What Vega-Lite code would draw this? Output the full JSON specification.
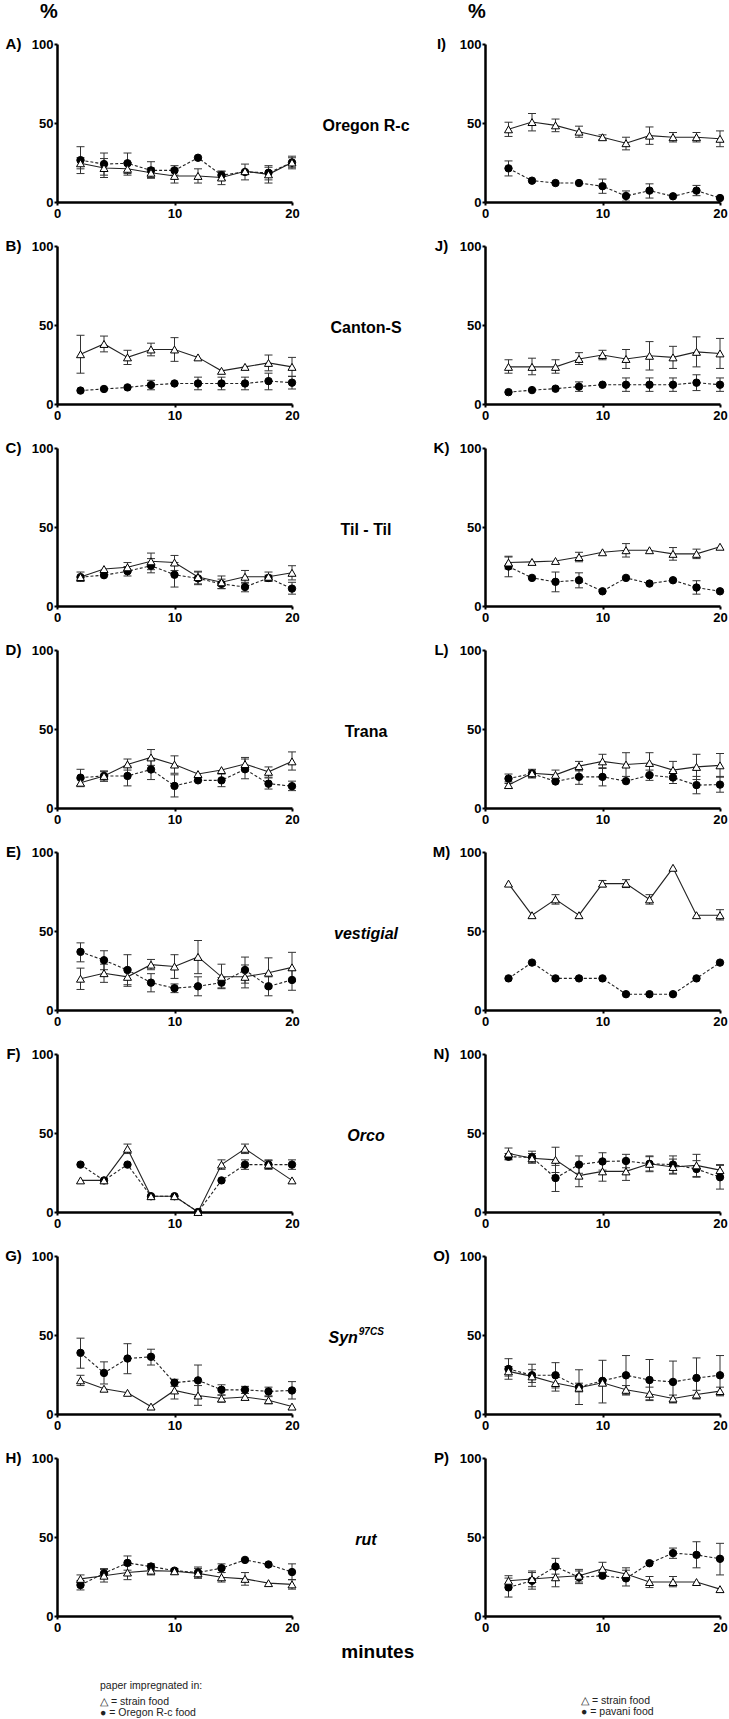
{
"$schema": "https://vega.github.io/schema/vega-lite/v6.json",
"padding": {"left": 5, "top": 1, "right": 0, "bottom": 0},
"background": "white",
"data": {"values": [
{"r":1,"c":"L","k":"d","s":"t","x":2,"y":24.5,"lo":21,"hi":28},
{"r":1,"c":"L","k":"d","s":"t","x":4,"y":21.5,"lo":15.5,"hi":27.5},
{"r":1,"c":"L","k":"d","s":"t","x":6,"y":21,"lo":17,"hi":25},
{"r":1,"c":"L","k":"d","s":"t","x":8,"y":18.5,"lo":15.5,"hi":21.5},
{"r":1,"c":"L","k":"d","s":"t","x":10,"y":16.5,"lo":12,"hi":21},
{"r":1,"c":"L","k":"d","s":"t","x":12,"y":16.5,"lo":12,"hi":21},
{"r":1,"c":"L","k":"d","s":"t","x":14,"y":15.5,"lo":11,"hi":19.5},
{"r":1,"c":"L","k":"d","s":"t","x":16,"y":19.5,"lo":14,"hi":24},
{"r":1,"c":"L","k":"d","s":"t","x":18,"y":17.5,"lo":12,"hi":22},
{"r":1,"c":"L","k":"d","s":"t","x":20,"y":25,"lo":21,"hi":29},
{"r":1,"c":"L","k":"d","s":"c","x":2,"y":26.5,"lo":18,"hi":35},
{"r":1,"c":"L","k":"d","s":"c","x":4,"y":24,"lo":17,"hi":31},
{"r":1,"c":"L","k":"d","s":"c","x":6,"y":24.5,"lo":18,"hi":31},
{"r":1,"c":"L","k":"d","s":"c","x":8,"y":20,"lo":15,"hi":25.5},
{"r":1,"c":"L","k":"d","s":"c","x":10,"y":20,"lo":17,"hi":23},
{"r":1,"c":"L","k":"d","s":"c","x":12,"y":28},
{"r":1,"c":"L","k":"d","s":"c","x":14,"y":17,"lo":14,"hi":19.5},
{"r":1,"c":"L","k":"d","s":"c","x":16,"y":19},
{"r":1,"c":"L","k":"d","s":"c","x":18,"y":18.5,"lo":14,"hi":23},
{"r":1,"c":"L","k":"d","s":"c","x":20,"y":25,"lo":22,"hi":28},

{"r":1,"c":"R","k":"d","s":"t","x":2,"y":46,"lo":41.5,"hi":50.5},
{"r":1,"c":"R","k":"d","s":"t","x":4,"y":50.6,"lo":45,"hi":56},
{"r":1,"c":"R","k":"d","s":"t","x":6,"y":48.5,"lo":44.5,"hi":52.5},
{"r":1,"c":"R","k":"d","s":"t","x":8,"y":44.5,"lo":41,"hi":48},
{"r":1,"c":"R","k":"d","s":"t","x":10,"y":41,"lo":39.5,"hi":42.5},
{"r":1,"c":"R","k":"d","s":"t","x":12,"y":37.2,"lo":33,"hi":41},
{"r":1,"c":"R","k":"d","s":"t","x":14,"y":42,"lo":36.5,"hi":47.5},
{"r":1,"c":"R","k":"d","s":"t","x":16,"y":41,"lo":38,"hi":44},
{"r":1,"c":"R","k":"d","s":"t","x":18,"y":41,"lo":38,"hi":44},
{"r":1,"c":"R","k":"d","s":"t","x":20,"y":40,"lo":35,"hi":45},
{"r":1,"c":"R","k":"d","s":"c","x":2,"y":21.3,"lo":16.5,"hi":26},
{"r":1,"c":"R","k":"d","s":"c","x":4,"y":13.5},
{"r":1,"c":"R","k":"d","s":"c","x":6,"y":12},
{"r":1,"c":"R","k":"d","s":"c","x":8,"y":12},
{"r":1,"c":"R","k":"d","s":"c","x":10,"y":10,"lo":5.5,"hi":14.5},
{"r":1,"c":"R","k":"d","s":"c","x":12,"y":3.8,"lo":0.5,"hi":7},
{"r":1,"c":"R","k":"d","s":"c","x":14,"y":7.2,"lo":2.5,"hi":11.5},
{"r":1,"c":"R","k":"d","s":"c","x":16,"y":3.6},
{"r":1,"c":"R","k":"d","s":"c","x":18,"y":7.2,"lo":4,"hi":10.5},
{"r":1,"c":"R","k":"d","s":"c","x":20,"y":2.5},

{"r":2,"c":"L","k":"d","s":"t","x":2,"y":31.5,"lo":19.5,"hi":43.5},
{"r":2,"c":"L","k":"d","s":"t","x":4,"y":38,"lo":33,"hi":43},
{"r":2,"c":"L","k":"d","s":"t","x":6,"y":29.5,"lo":25,"hi":34},
{"r":2,"c":"L","k":"d","s":"t","x":8,"y":34.5,"lo":30.5,"hi":38.5},
{"r":2,"c":"L","k":"d","s":"t","x":10,"y":34.5,"lo":27,"hi":42},
{"r":2,"c":"L","k":"d","s":"t","x":12,"y":29.5},
{"r":2,"c":"L","k":"d","s":"t","x":14,"y":21},
{"r":2,"c":"L","k":"d","s":"t","x":16,"y":23.5},
{"r":2,"c":"L","k":"d","s":"t","x":18,"y":26,"lo":21,"hi":31},
{"r":2,"c":"L","k":"d","s":"t","x":20,"y":23.5,"lo":17.5,"hi":29.5},
{"r":2,"c":"L","k":"d","s":"c","x":2,"y":8.5},
{"r":2,"c":"L","k":"d","s":"c","x":4,"y":9.5},
{"r":2,"c":"L","k":"d","s":"c","x":6,"y":10.5},
{"r":2,"c":"L","k":"d","s":"c","x":8,"y":12,"lo":9,"hi":15},
{"r":2,"c":"L","k":"d","s":"c","x":10,"y":13},
{"r":2,"c":"L","k":"d","s":"c","x":12,"y":13,"lo":9,"hi":17},
{"r":2,"c":"L","k":"d","s":"c","x":14,"y":13,"lo":9,"hi":17},
{"r":2,"c":"L","k":"d","s":"c","x":16,"y":13,"lo":9,"hi":17},
{"r":2,"c":"L","k":"d","s":"c","x":18,"y":14.5,"lo":9,"hi":19.5},
{"r":2,"c":"L","k":"d","s":"c","x":20,"y":13.5,"lo":9.5,"hi":17.5},

{"r":2,"c":"R","k":"d","s":"t","x":2,"y":23.5,"lo":19.5,"hi":28},
{"r":2,"c":"R","k":"d","s":"t","x":4,"y":23.5,"lo":18.5,"hi":29},
{"r":2,"c":"R","k":"d","s":"t","x":6,"y":23.5,"lo":19.5,"hi":28},
{"r":2,"c":"R","k":"d","s":"t","x":8,"y":28.5,"lo":25,"hi":32.5},
{"r":2,"c":"R","k":"d","s":"t","x":10,"y":31,"lo":28,"hi":34},
{"r":2,"c":"R","k":"d","s":"t","x":12,"y":28.5,"lo":22.5,"hi":34.5},
{"r":2,"c":"R","k":"d","s":"t","x":14,"y":30.5,"lo":21.5,"hi":39.5},
{"r":2,"c":"R","k":"d","s":"t","x":16,"y":29.5,"lo":22.5,"hi":36.5},
{"r":2,"c":"R","k":"d","s":"t","x":18,"y":33,"lo":23.5,"hi":42.5},
{"r":2,"c":"R","k":"d","s":"t","x":20,"y":32,"lo":22.5,"hi":41.5},
{"r":2,"c":"R","k":"d","s":"c","x":2,"y":7.5},
{"r":2,"c":"R","k":"d","s":"c","x":4,"y":8.8},
{"r":2,"c":"R","k":"d","s":"c","x":6,"y":9.7},
{"r":2,"c":"R","k":"d","s":"c","x":8,"y":11,"lo":8,"hi":14},
{"r":2,"c":"R","k":"d","s":"c","x":10,"y":12.2},
{"r":2,"c":"R","k":"d","s":"c","x":12,"y":12.2,"lo":8,"hi":16.5},
{"r":2,"c":"R","k":"d","s":"c","x":14,"y":12.2,"lo":8,"hi":16.5},
{"r":2,"c":"R","k":"d","s":"c","x":16,"y":12.2,"lo":8,"hi":16.5},
{"r":2,"c":"R","k":"d","s":"c","x":18,"y":13.5,"lo":8.5,"hi":18.5},
{"r":2,"c":"R","k":"d","s":"c","x":20,"y":12.2,"lo":8,"hi":16.5},

{"r":3,"c":"L","k":"d","s":"t","x":2,"y":18.3,"lo":15.5,"hi":21.5},
{"r":3,"c":"L","k":"d","s":"t","x":4,"y":23.4},
{"r":3,"c":"L","k":"d","s":"t","x":6,"y":24.5,"lo":21.5,"hi":27.5},
{"r":3,"c":"L","k":"d","s":"t","x":8,"y":28.3,"lo":23,"hi":33.5},
{"r":3,"c":"L","k":"d","s":"t","x":10,"y":27.5,"lo":22.5,"hi":32},
{"r":3,"c":"L","k":"d","s":"t","x":12,"y":18.3,"lo":14,"hi":22},
{"r":3,"c":"L","k":"d","s":"t","x":14,"y":15,"lo":11,"hi":19},
{"r":3,"c":"L","k":"d","s":"t","x":16,"y":18.5,"lo":14.5,"hi":22.5},
{"r":3,"c":"L","k":"d","s":"t","x":18,"y":18.5,"lo":15.5,"hi":21.5},
{"r":3,"c":"L","k":"d","s":"t","x":20,"y":21,"lo":16.5,"hi":25.5},
{"r":3,"c":"L","k":"d","s":"c","x":2,"y":18.3},
{"r":3,"c":"L","k":"d","s":"c","x":4,"y":19.5},
{"r":3,"c":"L","k":"d","s":"c","x":6,"y":22,"lo":19,"hi":25},
{"r":3,"c":"L","k":"d","s":"c","x":8,"y":25.5,"lo":21,"hi":30},
{"r":3,"c":"L","k":"d","s":"c","x":10,"y":19.8,"lo":12,"hi":27.5},
{"r":3,"c":"L","k":"d","s":"c","x":12,"y":17.5,"lo":13.5,"hi":21.5},
{"r":3,"c":"L","k":"d","s":"c","x":14,"y":14,"lo":11,"hi":17},
{"r":3,"c":"L","k":"d","s":"c","x":16,"y":12,"lo":9,"hi":15},
{"r":3,"c":"L","k":"d","s":"c","x":18,"y":17.8,"lo":16,"hi":19.5},
{"r":3,"c":"L","k":"d","s":"c","x":20,"y":11,"lo":7.5,"hi":15},

{"r":3,"c":"R","k":"d","s":"t","x":2,"y":27.5,"lo":23.5,"hi":31.5},
{"r":3,"c":"R","k":"d","s":"t","x":4,"y":27.9},
{"r":3,"c":"R","k":"d","s":"t","x":6,"y":28.5},
{"r":3,"c":"R","k":"d","s":"t","x":8,"y":31,"lo":28,"hi":34},
{"r":3,"c":"R","k":"d","s":"t","x":10,"y":34},
{"r":3,"c":"R","k":"d","s":"t","x":12,"y":35.3,"lo":31,"hi":39.5},
{"r":3,"c":"R","k":"d","s":"t","x":14,"y":35.3},
{"r":3,"c":"R","k":"d","s":"t","x":16,"y":33,"lo":29,"hi":37},
{"r":3,"c":"R","k":"d","s":"t","x":18,"y":33,"lo":30,"hi":36},
{"r":3,"c":"R","k":"d","s":"t","x":20,"y":37.5},
{"r":3,"c":"R","k":"d","s":"c","x":2,"y":25,"lo":18.5,"hi":31},
{"r":3,"c":"R","k":"d","s":"c","x":4,"y":17.8},
{"r":3,"c":"R","k":"d","s":"c","x":6,"y":15.3,"lo":9,"hi":21.5},
{"r":3,"c":"R","k":"d","s":"c","x":8,"y":16.3,"lo":11.5,"hi":21},
{"r":3,"c":"R","k":"d","s":"c","x":10,"y":9.3},
{"r":3,"c":"R","k":"d","s":"c","x":12,"y":17.8},
{"r":3,"c":"R","k":"d","s":"c","x":14,"y":14.2},
{"r":3,"c":"R","k":"d","s":"c","x":16,"y":16.3},
{"r":3,"c":"R","k":"d","s":"c","x":18,"y":11.7,"lo":7.5,"hi":16},
{"r":3,"c":"R","k":"d","s":"c","x":20,"y":9.3},

{"r":4,"c":"L","k":"d","s":"t","x":2,"y":16,"lo":13.5,"hi":18.5},
{"r":4,"c":"L","k":"d","s":"t","x":4,"y":20.3,"lo":17,"hi":23.5},
{"r":4,"c":"L","k":"d","s":"t","x":6,"y":27.6,"lo":24,"hi":31},
{"r":4,"c":"L","k":"d","s":"t","x":8,"y":32,"lo":27,"hi":37},
{"r":4,"c":"L","k":"d","s":"t","x":10,"y":27.5,"lo":22,"hi":33},
{"r":4,"c":"L","k":"d","s":"t","x":12,"y":21.5},
{"r":4,"c":"L","k":"d","s":"t","x":14,"y":24},
{"r":4,"c":"L","k":"d","s":"t","x":16,"y":27.8,"lo":24,"hi":32},
{"r":4,"c":"L","k":"d","s":"t","x":18,"y":22.9,"lo":19.5,"hi":26},
{"r":4,"c":"L","k":"d","s":"t","x":20,"y":29.5,"lo":24,"hi":35.5},
{"r":4,"c":"L","k":"d","s":"c","x":2,"y":19.2,"lo":14,"hi":24.5},
{"r":4,"c":"L","k":"d","s":"c","x":4,"y":20.3,"lo":17,"hi":23},
{"r":4,"c":"L","k":"d","s":"c","x":6,"y":20.3,"lo":14,"hi":26.5},
{"r":4,"c":"L","k":"d","s":"c","x":8,"y":24.4,"lo":18,"hi":30.5},
{"r":4,"c":"L","k":"d","s":"c","x":10,"y":14,"lo":7,"hi":21},
{"r":4,"c":"L","k":"d","s":"c","x":12,"y":17.5},
{"r":4,"c":"L","k":"d","s":"c","x":14,"y":17.5,"lo":13.5,"hi":21.5},
{"r":4,"c":"L","k":"d","s":"c","x":16,"y":24.5,"lo":18.5,"hi":31},
{"r":4,"c":"L","k":"d","s":"c","x":18,"y":15.4,"lo":12,"hi":19},
{"r":4,"c":"L","k":"d","s":"c","x":20,"y":13.8,"lo":11,"hi":17},

{"r":4,"c":"R","k":"d","s":"t","x":2,"y":14.5,"lo":12.5,"hi":16.5},
{"r":4,"c":"R","k":"d","s":"t","x":4,"y":22,"lo":19.5,"hi":24.5},
{"r":4,"c":"R","k":"d","s":"t","x":6,"y":21,"lo":17.5,"hi":24},
{"r":4,"c":"R","k":"d","s":"t","x":8,"y":26.5,"lo":23.5,"hi":29.5},
{"r":4,"c":"R","k":"d","s":"t","x":10,"y":29.5,"lo":25,"hi":34},
{"r":4,"c":"R","k":"d","s":"t","x":12,"y":27.5,"lo":20,"hi":35},
{"r":4,"c":"R","k":"d","s":"t","x":14,"y":28.5,"lo":21.5,"hi":35},
{"r":4,"c":"R","k":"d","s":"t","x":16,"y":24,"lo":18.5,"hi":29.5},
{"r":4,"c":"R","k":"d","s":"t","x":18,"y":26,"lo":18,"hi":34},
{"r":4,"c":"R","k":"d","s":"t","x":20,"y":27,"lo":19.5,"hi":34.5},
{"r":4,"c":"R","k":"d","s":"c","x":2,"y":18.6,"lo":15.5,"hi":21.5},
{"r":4,"c":"R","k":"d","s":"c","x":4,"y":21.8,"lo":19,"hi":24},
{"r":4,"c":"R","k":"d","s":"c","x":6,"y":16.8},
{"r":4,"c":"R","k":"d","s":"c","x":8,"y":19.7,"lo":15,"hi":24},
{"r":4,"c":"R","k":"d","s":"c","x":10,"y":19.7,"lo":14,"hi":25.5},
{"r":4,"c":"R","k":"d","s":"c","x":12,"y":17},
{"r":4,"c":"R","k":"d","s":"c","x":14,"y":20.8,"lo":17.5,"hi":24},
{"r":4,"c":"R","k":"d","s":"c","x":16,"y":19.3,"lo":15.5,"hi":23},
{"r":4,"c":"R","k":"d","s":"c","x":18,"y":14.5,"lo":9,"hi":20},
{"r":4,"c":"R","k":"d","s":"c","x":20,"y":14.8,"lo":10,"hi":20},

{"r":5,"c":"L","k":"d","s":"t","x":2,"y":19.8,"lo":13,"hi":26.5},
{"r":5,"c":"L","k":"d","s":"t","x":4,"y":23.3,"lo":17.5,"hi":29},
{"r":5,"c":"L","k":"d","s":"t","x":6,"y":21,"lo":16,"hi":26},
{"r":5,"c":"L","k":"d","s":"t","x":8,"y":28.7,"lo":25.5,"hi":32},
{"r":5,"c":"L","k":"d","s":"t","x":10,"y":27.5,"lo":20,"hi":35},
{"r":5,"c":"L","k":"d","s":"t","x":12,"y":33.6,"lo":23,"hi":44},
{"r":5,"c":"L","k":"d","s":"t","x":14,"y":21,"lo":13.5,"hi":29},
{"r":5,"c":"L","k":"d","s":"t","x":16,"y":21,"lo":14,"hi":28.5},
{"r":5,"c":"L","k":"d","s":"t","x":18,"y":23.6,"lo":14,"hi":33},
{"r":5,"c":"L","k":"d","s":"t","x":20,"y":27,"lo":18,"hi":36.5},
{"r":5,"c":"L","k":"d","s":"c","x":2,"y":36.8,"lo":30.5,"hi":42.5},
{"r":5,"c":"L","k":"d","s":"c","x":4,"y":31.5,"lo":25.5,"hi":37.5},
{"r":5,"c":"L","k":"d","s":"c","x":6,"y":25.3,"lo":15,"hi":35},
{"r":5,"c":"L","k":"d","s":"c","x":8,"y":17.3,"lo":11.5,"hi":23},
{"r":5,"c":"L","k":"d","s":"c","x":10,"y":13.8,"lo":11,"hi":16.5},
{"r":5,"c":"L","k":"d","s":"c","x":12,"y":15,"lo":9,"hi":21},
{"r":5,"c":"L","k":"d","s":"c","x":14,"y":17.3,"lo":14,"hi":20.5},
{"r":5,"c":"L","k":"d","s":"c","x":16,"y":25.3,"lo":17,"hi":33.5},
{"r":5,"c":"L","k":"d","s":"c","x":18,"y":15,"lo":9,"hi":21},
{"r":5,"c":"L","k":"d","s":"c","x":20,"y":19,"lo":12.5,"hi":25},

{"r":5,"c":"R","k":"d","s":"t","x":2,"y":80},
{"r":5,"c":"R","k":"d","s":"t","x":4,"y":60},
{"r":5,"c":"R","k":"d","s":"t","x":6,"y":70,"lo":67,"hi":73},
{"r":5,"c":"R","k":"d","s":"t","x":8,"y":60},
{"r":5,"c":"R","k":"d","s":"t","x":10,"y":80,"lo":78,"hi":82},
{"r":5,"c":"R","k":"d","s":"t","x":12,"y":80,"lo":77.5,"hi":82.5},
{"r":5,"c":"R","k":"d","s":"t","x":14,"y":70,"lo":67,"hi":73},
{"r":5,"c":"R","k":"d","s":"t","x":16,"y":90},
{"r":5,"c":"R","k":"d","s":"t","x":18,"y":60},
{"r":5,"c":"R","k":"d","s":"t","x":20,"y":60,"lo":57,"hi":63.5},
{"r":5,"c":"R","k":"d","s":"c","x":2,"y":20},
{"r":5,"c":"R","k":"d","s":"c","x":4,"y":30},
{"r":5,"c":"R","k":"d","s":"c","x":6,"y":20},
{"r":5,"c":"R","k":"d","s":"c","x":8,"y":20},
{"r":5,"c":"R","k":"d","s":"c","x":10,"y":20},
{"r":5,"c":"R","k":"d","s":"c","x":12,"y":10},
{"r":5,"c":"R","k":"d","s":"c","x":14,"y":10},
{"r":5,"c":"R","k":"d","s":"c","x":16,"y":10},
{"r":5,"c":"R","k":"d","s":"c","x":18,"y":20},
{"r":5,"c":"R","k":"d","s":"c","x":20,"y":30},

{"r":6,"c":"L","k":"d","s":"t","x":2,"y":20},
{"r":6,"c":"L","k":"d","s":"t","x":4,"y":20},
{"r":6,"c":"L","k":"d","s":"t","x":6,"y":40,"lo":37,"hi":43},
{"r":6,"c":"L","k":"d","s":"t","x":8,"y":10},
{"r":6,"c":"L","k":"d","s":"t","x":10,"y":10},
{"r":6,"c":"L","k":"d","s":"t","x":12,"y":0},
{"r":6,"c":"L","k":"d","s":"t","x":14,"y":30,"lo":27,"hi":33},
{"r":6,"c":"L","k":"d","s":"t","x":16,"y":40,"lo":37,"hi":43},
{"r":6,"c":"L","k":"d","s":"t","x":18,"y":30,"lo":27.5,"hi":32.5},
{"r":6,"c":"L","k":"d","s":"t","x":20,"y":20},
{"r":6,"c":"L","k":"d","s":"c","x":2,"y":30},
{"r":6,"c":"L","k":"d","s":"c","x":4,"y":20},
{"r":6,"c":"L","k":"d","s":"c","x":6,"y":30},
{"r":6,"c":"L","k":"d","s":"c","x":8,"y":10},
{"r":6,"c":"L","k":"d","s":"c","x":10,"y":10},
{"r":6,"c":"L","k":"d","s":"c","x":12,"y":0},
{"r":6,"c":"L","k":"d","s":"c","x":14,"y":20},
{"r":6,"c":"L","k":"d","s":"c","x":16,"y":30,"lo":27,"hi":33},
{"r":6,"c":"L","k":"d","s":"c","x":18,"y":30,"lo":27,"hi":33},
{"r":6,"c":"L","k":"d","s":"c","x":20,"y":30,"lo":27,"hi":33},

{"r":6,"c":"R","k":"d","s":"t","x":2,"y":37,"lo":33.5,"hi":40.5},
{"r":6,"c":"R","k":"d","s":"t","x":4,"y":34,"lo":31,"hi":37},
{"r":6,"c":"R","k":"d","s":"t","x":6,"y":33,"lo":25,"hi":41},
{"r":6,"c":"R","k":"d","s":"t","x":8,"y":23,"lo":16,"hi":30},
{"r":6,"c":"R","k":"d","s":"t","x":10,"y":25.7,"lo":19.5,"hi":32},
{"r":6,"c":"R","k":"d","s":"t","x":12,"y":25.7,"lo":20,"hi":31.5},
{"r":6,"c":"R","k":"d","s":"t","x":14,"y":30.5,"lo":25.5,"hi":35.5},
{"r":6,"c":"R","k":"d","s":"t","x":16,"y":28.5,"lo":24,"hi":33.5},
{"r":6,"c":"R","k":"d","s":"t","x":18,"y":29.5,"lo":22.5,"hi":36.5},
{"r":6,"c":"R","k":"d","s":"t","x":20,"y":26.5,"lo":22.5,"hi":30},
{"r":6,"c":"R","k":"d","s":"c","x":2,"y":35,"lo":33,"hi":37},
{"r":6,"c":"R","k":"d","s":"c","x":4,"y":34.6,"lo":31,"hi":38.5},
{"r":6,"c":"R","k":"d","s":"c","x":6,"y":21.5,"lo":13,"hi":29.5},
{"r":6,"c":"R","k":"d","s":"c","x":8,"y":30,"lo":24.5,"hi":35.5},
{"r":6,"c":"R","k":"d","s":"c","x":10,"y":32,"lo":26.5,"hi":37.5},
{"r":6,"c":"R","k":"d","s":"c","x":12,"y":32.3,"lo":28,"hi":36.5},
{"r":6,"c":"R","k":"d","s":"c","x":14,"y":30.5,"lo":26,"hi":35},
{"r":6,"c":"R","k":"d","s":"c","x":16,"y":30,"lo":24.5,"hi":35.5},
{"r":6,"c":"R","k":"d","s":"c","x":18,"y":27.2,"lo":22,"hi":32.5},
{"r":6,"c":"R","k":"d","s":"c","x":20,"y":22,"lo":14.5,"hi":29.5},

{"r":7,"c":"L","k":"d","s":"t","x":2,"y":21.3,"lo":18,"hi":24.5},
{"r":7,"c":"L","k":"d","s":"t","x":4,"y":16},
{"r":7,"c":"L","k":"d","s":"t","x":6,"y":13.4},
{"r":7,"c":"L","k":"d","s":"t","x":8,"y":4.7},
{"r":7,"c":"L","k":"d","s":"t","x":10,"y":14.9,"lo":9.5,"hi":20},
{"r":7,"c":"L","k":"d","s":"t","x":12,"y":11.7,"lo":5.5,"hi":18},
{"r":7,"c":"L","k":"d","s":"t","x":14,"y":9.8,"lo":7.5,"hi":12},
{"r":7,"c":"L","k":"d","s":"t","x":16,"y":10.8},
{"r":7,"c":"L","k":"d","s":"t","x":18,"y":8.7,"lo":6.5,"hi":11},
{"r":7,"c":"L","k":"d","s":"t","x":20,"y":4.7},
{"r":7,"c":"L","k":"d","s":"c","x":2,"y":38.7,"lo":29,"hi":48},
{"r":7,"c":"L","k":"d","s":"c","x":4,"y":26,"lo":19,"hi":33},
{"r":7,"c":"L","k":"d","s":"c","x":6,"y":35.1,"lo":25.5,"hi":44.5},
{"r":7,"c":"L","k":"d","s":"c","x":8,"y":36.2,"lo":31,"hi":41},
{"r":7,"c":"L","k":"d","s":"c","x":10,"y":19.8,"lo":17.5,"hi":22},
{"r":7,"c":"L","k":"d","s":"c","x":12,"y":21.3,"lo":11,"hi":31},
{"r":7,"c":"L","k":"d","s":"c","x":14,"y":15.3,"lo":12,"hi":18.5},
{"r":7,"c":"L","k":"d","s":"c","x":16,"y":15.3,"lo":13,"hi":17.5},
{"r":7,"c":"L","k":"d","s":"c","x":18,"y":14.3,"lo":11.5,"hi":17},
{"r":7,"c":"L","k":"d","s":"c","x":20,"y":14.9,"lo":9.5,"hi":20.5},

{"r":7,"c":"R","k":"d","s":"t","x":2,"y":27,"lo":24,"hi":30},
{"r":7,"c":"R","k":"d","s":"t","x":4,"y":23.8,"lo":20,"hi":28},
{"r":7,"c":"R","k":"d","s":"t","x":6,"y":19.6,"lo":14.5,"hi":25},
{"r":7,"c":"R","k":"d","s":"t","x":8,"y":16.6,"lo":14,"hi":19.5},
{"r":7,"c":"R","k":"d","s":"t","x":10,"y":19.8,"lo":18,"hi":21.5},
{"r":7,"c":"R","k":"d","s":"t","x":12,"y":15.3,"lo":12.5,"hi":18},
{"r":7,"c":"R","k":"d","s":"t","x":14,"y":12.8,"lo":9,"hi":17},
{"r":7,"c":"R","k":"d","s":"t","x":16,"y":9.8,"lo":7.5,"hi":12},
{"r":7,"c":"R","k":"d","s":"t","x":18,"y":12.3,"lo":9.5,"hi":15},
{"r":7,"c":"R","k":"d","s":"t","x":20,"y":14.5,"lo":11.5,"hi":17},
{"r":7,"c":"R","k":"d","s":"c","x":2,"y":28.5,"lo":22,"hi":35},
{"r":7,"c":"R","k":"d","s":"c","x":4,"y":24.5,"lo":17.5,"hi":31.5},
{"r":7,"c":"R","k":"d","s":"c","x":6,"y":24.5,"lo":16.5,"hi":32.5},
{"r":7,"c":"R","k":"d","s":"c","x":8,"y":17,"lo":6,"hi":28},
{"r":7,"c":"R","k":"d","s":"c","x":10,"y":21,"lo":7,"hi":34},
{"r":7,"c":"R","k":"d","s":"c","x":12,"y":24.5,"lo":12,"hi":37},
{"r":7,"c":"R","k":"d","s":"c","x":14,"y":21.5,"lo":8.5,"hi":34.5},
{"r":7,"c":"R","k":"d","s":"c","x":16,"y":20.3,"lo":7,"hi":33.5},
{"r":7,"c":"R","k":"d","s":"c","x":18,"y":22.8,"lo":10,"hi":35.5},
{"r":7,"c":"R","k":"d","s":"c","x":20,"y":24.5,"lo":12,"hi":37},

{"r":8,"c":"L","k":"d","s":"t","x":2,"y":23.5,"lo":21,"hi":26},
{"r":8,"c":"L","k":"d","s":"t","x":4,"y":25.5,"lo":21.5,"hi":29.5},
{"r":8,"c":"L","k":"d","s":"t","x":6,"y":27.5,"lo":23,"hi":32},
{"r":8,"c":"L","k":"d","s":"t","x":8,"y":28.7,"lo":26,"hi":31.5},
{"r":8,"c":"L","k":"d","s":"t","x":10,"y":28.3,"lo":26.5,"hi":30},
{"r":8,"c":"L","k":"d","s":"t","x":12,"y":27,"lo":24,"hi":30},
{"r":8,"c":"L","k":"d","s":"t","x":14,"y":24.5,"lo":21.5,"hi":27.5},
{"r":8,"c":"L","k":"d","s":"t","x":16,"y":23.5,"lo":19.5,"hi":27.5},
{"r":8,"c":"L","k":"d","s":"t","x":18,"y":20.8},
{"r":8,"c":"L","k":"d","s":"t","x":20,"y":20,"lo":17,"hi":23},
{"r":8,"c":"L","k":"d","s":"c","x":2,"y":19.6,"lo":16.5,"hi":22.5},
{"r":8,"c":"L","k":"d","s":"c","x":4,"y":27,"lo":24,"hi":30},
{"r":8,"c":"L","k":"d","s":"c","x":6,"y":33.6,"lo":29,"hi":38},
{"r":8,"c":"L","k":"d","s":"c","x":8,"y":31.3,"lo":29.5,"hi":33},
{"r":8,"c":"L","k":"d","s":"c","x":10,"y":28.7},
{"r":8,"c":"L","k":"d","s":"c","x":12,"y":27.5,"lo":24,"hi":31},
{"r":8,"c":"L","k":"d","s":"c","x":14,"y":30.3,"lo":27.5,"hi":33},
{"r":8,"c":"L","k":"d","s":"c","x":16,"y":35.5},
{"r":8,"c":"L","k":"d","s":"c","x":18,"y":32.6},
{"r":8,"c":"L","k":"d","s":"c","x":20,"y":27.8,"lo":23,"hi":33},

{"r":8,"c":"R","k":"d","s":"t","x":2,"y":22.3,"lo":19.5,"hi":25.5},
{"r":8,"c":"R","k":"d","s":"t","x":4,"y":23.4,"lo":18.5,"hi":28.5},
{"r":8,"c":"R","k":"d","s":"t","x":6,"y":24.5,"lo":18.5,"hi":30.5},
{"r":8,"c":"R","k":"d","s":"t","x":8,"y":25.5,"lo":21.5,"hi":29.5},
{"r":8,"c":"R","k":"d","s":"t","x":10,"y":29.8,"lo":25.5,"hi":34},
{"r":8,"c":"R","k":"d","s":"t","x":12,"y":26.6,"lo":23,"hi":30.5},
{"r":8,"c":"R","k":"d","s":"t","x":14,"y":21.5,"lo":18,"hi":25},
{"r":8,"c":"R","k":"d","s":"t","x":16,"y":21.5,"lo":18.5,"hi":25},
{"r":8,"c":"R","k":"d","s":"t","x":18,"y":21.5},
{"r":8,"c":"R","k":"d","s":"t","x":20,"y":17},
{"r":8,"c":"R","k":"d","s":"c","x":2,"y":18.1,"lo":12,"hi":24},
{"r":8,"c":"R","k":"d","s":"c","x":4,"y":22.3,"lo":17,"hi":27.5},
{"r":8,"c":"R","k":"d","s":"c","x":6,"y":31.3,"lo":26.5,"hi":36.5},
{"r":8,"c":"R","k":"d","s":"c","x":8,"y":24.5,"lo":20.5,"hi":28.5},
{"r":8,"c":"R","k":"d","s":"c","x":10,"y":25.5},
{"r":8,"c":"R","k":"d","s":"c","x":12,"y":23.8,"lo":19,"hi":29},
{"r":8,"c":"R","k":"d","s":"c","x":14,"y":33.4},
{"r":8,"c":"R","k":"d","s":"c","x":16,"y":39.8,"lo":36.5,"hi":43},
{"r":8,"c":"R","k":"d","s":"c","x":18,"y":38.7,"lo":30.5,"hi":47},
{"r":8,"c":"R","k":"d","s":"c","x":20,"y":36.2,"lo":26,"hi":46},

{"r":1,"c":"L","k":"pct","t":"%"},
{"r":1,"c":"R","k":"pct","t":"%"},
{"r":1,"c":"L","k":"let","t":"A)"},
{"r":2,"c":"L","k":"let","t":"B)"},
{"r":3,"c":"L","k":"let","t":"C)"},
{"r":4,"c":"L","k":"let","t":"D)"},
{"r":5,"c":"L","k":"let","t":"E)"},
{"r":6,"c":"L","k":"let","t":"F)"},
{"r":7,"c":"L","k":"let","t":"G)"},
{"r":8,"c":"L","k":"let","t":"H)"},
{"r":1,"c":"R","k":"let","t":"I)"},
{"r":2,"c":"R","k":"let","t":"J)"},
{"r":3,"c":"R","k":"let","t":"K)"},
{"r":4,"c":"R","k":"let","t":"L)"},
{"r":5,"c":"R","k":"let","t":"M)"},
{"r":6,"c":"R","k":"let","t":"N)"},
{"r":7,"c":"R","k":"let","t":"O)"},
{"r":8,"c":"R","k":"let","t":"P)"},
{"r":1,"c":"L","k":"strain","t":"Oregon R-c"},
{"r":2,"c":"L","k":"strain","t":"Canton-S"},
{"r":3,"c":"L","k":"strain","t":"Til - Til"},
{"r":4,"c":"L","k":"strain","t":"Trana"},
{"r":5,"c":"L","k":"gene","t":"vestigial"},
{"r":6,"c":"L","k":"gene","t":"Orco"},
{"r":7,"c":"L","k":"genebase","t":"Syn"},
{"r":7,"c":"L","k":"sup","t":"97CS"},
{"r":8,"c":"L","k":"gene","t":"rut"},
{"r":8,"c":"L","k":"xt","t":"minutes"},
{"r":8,"c":"L","k":"lgL0","t":"paper impregnated in:"},
{"r":8,"c":"L","k":"lgL1","t":"△ = strain food"},
{"r":8,"c":"L","k":"lgL2","t":"● = Oregon R-c food"},
{"r":8,"c":"R","k":"lgR1","t":"△ = strain food"},
{"r":8,"c":"R","k":"lgR2","t":"● = pavani food"}
]},
"facet": {
  "row": {"field": "r", "type": "ordinal", "header": {"labels": false, "title": null}},
  "column": {"field": "c", "type": "nominal", "header": {"labels": false, "title": null}}
},
"spacing": {"row": 44, "column": 193},
"bounds": "flush",
"resolve": {"axis": {"x": "independent", "y": "independent"}},
"spec": {
  "width": 235,
  "height": 158,
  "layer": [
    {"transform": [{"filter": "datum.k == 'd' && isValid(datum.lo)"}],
     "mark": {"type": "rule", "color": "#333", "strokeWidth": 1},
     "encoding": {
       "x": {"field": "x", "type": "quantitative", "scale": {"domain": [0, 20], "nice": false}, "axis": {"values": [0, 10, 20], "title": null}},
       "y": {"field": "lo", "type": "quantitative", "scale": {"domain": [0, 100], "nice": false}, "axis": {"values": [0, 50, 100], "title": null}},
       "y2": {"field": "hi"}}},
    {"transform": [{"filter": "datum.k == 'd' && isValid(datum.lo)"}],
     "mark": {"type": "tick", "orient": "horizontal", "size": 8, "thickness": 1, "color": "#333", "opacity": 1},
     "encoding": {
       "x": {"field": "x", "type": "quantitative"},
       "y": {"field": "lo", "type": "quantitative"}}},
    {"transform": [{"filter": "datum.k == 'd' && isValid(datum.hi)"}],
     "mark": {"type": "tick", "orient": "horizontal", "size": 8, "thickness": 1, "color": "#333", "opacity": 1},
     "encoding": {
       "x": {"field": "x", "type": "quantitative"},
       "y": {"field": "hi", "type": "quantitative"}}},
    {"transform": [{"filter": "datum.k == 'd' && datum.s == 'c'"}],
     "mark": {"type": "line", "color": "#222", "strokeWidth": 1.1, "strokeDash": [3, 2]},
     "encoding": {
       "x": {"field": "x", "type": "quantitative"},
       "y": {"field": "y", "type": "quantitative"}}},
    {"transform": [{"filter": "datum.k == 'd' && datum.s == 't'"}],
     "mark": {"type": "line", "color": "#222", "strokeWidth": 1.1},
     "encoding": {
       "x": {"field": "x", "type": "quantitative"},
       "y": {"field": "y", "type": "quantitative"}}},
    {"transform": [{"filter": "datum.k == 'd' && datum.s == 'c'"}],
     "mark": {"type": "point", "shape": "circle", "filled": true, "fill": "black", "stroke": "black", "strokeWidth": 1, "size": 55, "opacity": 1},
     "encoding": {
       "x": {"field": "x", "type": "quantitative"},
       "y": {"field": "y", "type": "quantitative"}}},
    {"transform": [{"filter": "datum.k == 'd' && datum.s == 't'"}],
     "mark": {"type": "point", "shape": "triangle-up", "filled": true, "fill": "white", "stroke": "black", "strokeWidth": 1, "size": 64, "opacity": 1},
     "encoding": {
       "x": {"field": "x", "type": "quantitative"},
       "y": {"field": "y", "type": "quantitative"}}},
    {"transform": [{"filter": "datum.k == 'let'"}],
     "mark": {"type": "text", "font": "Liberation Sans", "fontSize": 15, "fontWeight": "bold", "align": "center", "baseline": "middle", "color": "black"},
     "encoding": {"x": {"datum": -3.7}, "y": {"datum": 100}, "text": {"field": "t"}}},
    {"transform": [{"filter": "datum.k == 'pct'"}],
     "mark": {"type": "text", "font": "Liberation Sans", "fontSize": 20, "fontWeight": "bold", "align": "center", "baseline": "middle", "color": "black"},
     "encoding": {"x": {"datum": -0.7}, "y": {"datum": 120.5}, "text": {"field": "t"}}},
    {"transform": [{"filter": "datum.k == 'strain'"}],
     "mark": {"type": "text", "font": "Liberation Sans", "fontSize": 16, "fontWeight": "bold", "align": "center", "baseline": "middle", "color": "black"},
     "encoding": {"x": {"datum": 26.3}, "y": {"datum": 48}, "text": {"field": "t"}}},
    {"transform": [{"filter": "datum.k == 'gene'"}],
     "mark": {"type": "text", "font": "Liberation Sans", "fontSize": 16, "fontWeight": "bold", "fontStyle": "italic", "align": "center", "baseline": "middle", "color": "black"},
     "encoding": {"x": {"datum": 26.3}, "y": {"datum": 48}, "text": {"field": "t"}}},
    {"transform": [{"filter": "datum.k == 'genebase'"}],
     "mark": {"type": "text", "font": "Liberation Sans", "fontSize": 16, "fontWeight": "bold", "fontStyle": "italic", "align": "right", "baseline": "middle", "color": "black"},
     "encoding": {"x": {"datum": 25.6}, "y": {"datum": 48}, "text": {"field": "t"}}},
    {"transform": [{"filter": "datum.k == 'sup'"}],
     "mark": {"type": "text", "font": "Liberation Sans", "fontSize": 10, "fontWeight": "bold", "fontStyle": "italic", "align": "left", "baseline": "middle", "dx": 1, "dy": -6, "color": "black"},
     "encoding": {"x": {"datum": 25.6}, "y": {"datum": 48}, "text": {"field": "t"}}},
    {"transform": [{"filter": "datum.k == 'xt'"}],
     "mark": {"type": "text", "font": "Liberation Sans", "fontSize": 19, "fontWeight": "bold", "align": "center", "baseline": "middle", "color": "black"},
     "encoding": {"x": {"datum": 27.3}, "y": {"datum": -22.8}, "text": {"field": "t"}}},
    {"transform": [{"filter": "datum.k == 'lgL0'"}],
     "mark": {"type": "text", "font": "Liberation Sans", "fontSize": 10.5, "align": "left", "baseline": "middle", "color": "#222"},
     "encoding": {"x": {"datum": 3.66}, "y": {"datum": -44.3}, "text": {"field": "t"}}},
    {"transform": [{"filter": "datum.k == 'lgL1'"}],
     "mark": {"type": "text", "font": "Liberation Sans", "fontSize": 10.5, "align": "left", "baseline": "middle", "color": "#222"},
     "encoding": {"x": {"datum": 3.66}, "y": {"datum": -54.2}, "text": {"field": "t"}}},
    {"transform": [{"filter": "datum.k == 'lgL2'"}],
     "mark": {"type": "text", "font": "Liberation Sans", "fontSize": 10.5, "align": "left", "baseline": "middle", "color": "#222"},
     "encoding": {"x": {"datum": 3.66}, "y": {"datum": -61.6}, "text": {"field": "t"}}},
    {"transform": [{"filter": "datum.k == 'lgR1'"}],
     "mark": {"type": "text", "font": "Liberation Sans", "fontSize": 10.5, "align": "left", "baseline": "middle", "color": "#222"},
     "encoding": {"x": {"datum": 8.17}, "y": {"datum": -53.8}, "text": {"field": "t"}}},
    {"transform": [{"filter": "datum.k == 'lgR2'"}],
     "mark": {"type": "text", "font": "Liberation Sans", "fontSize": 10.5, "align": "left", "baseline": "middle", "color": "#222"},
     "encoding": {"x": {"datum": 8.17}, "y": {"datum": -61.0}, "text": {"field": "t"}}}
  ]
},
"config": {
  "view": {"stroke": null},
  "mark": {"invalid": "show"},
  "font": "Liberation Sans",
  "axis": {"grid": false, "domainColor": "black", "domainWidth": 2.5, "tickColor": "black", "tickWidth": 2, "tickSize": 3, "labelFont": "Liberation Sans", "labelFontWeight": "bold", "labelFontSize": 13, "labelColor": "black", "labelPadding": 2, "labelFlush": false},
  "axisY": {"labelPadding": 1}
}
}
